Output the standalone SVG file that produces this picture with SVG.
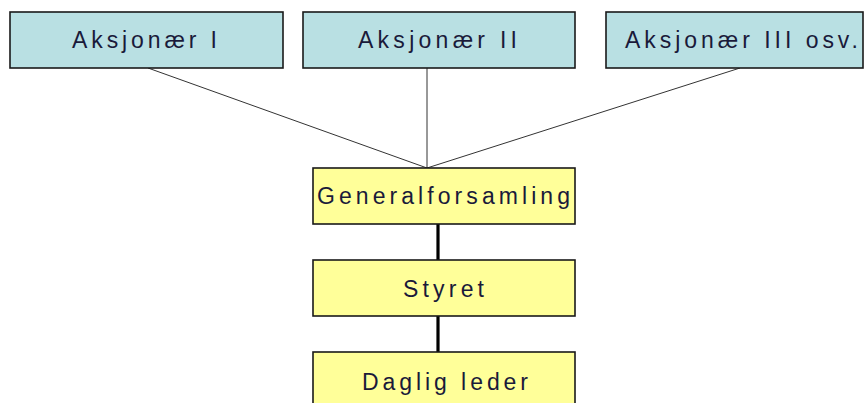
<svg xmlns="http://www.w3.org/2000/svg" width="867" height="403" viewBox="0 0 867 403">
<style>
.box{stroke:#1a1a1a;stroke-width:1.6}
.top{fill:#b9e0e3}
.yel{fill:#ffff99}
.t{font-family:"Liberation Sans",Arial,sans-serif;font-size:23px;fill:#1a1a3a;text-anchor:middle}
.thin{stroke:#333;stroke-width:1;fill:none}
.thick{stroke:#000;stroke-width:3.2;fill:none}
</style>
<rect width="867" height="403" fill="#fff"/>
<g id="connectors">
<line class="thin" x1="148" y1="68" x2="427" y2="168"/>
<line class="thin" x1="427" y1="68" x2="427" y2="168"/>
<line class="thin" x1="740" y1="68" x2="427" y2="168"/>
<line class="thick" x1="438" y1="224" x2="438" y2="260"/>
<line class="thick" x1="438" y1="316" x2="438" y2="352"/>
</g>
<g id="aksjonaer1">
<rect class="box top" x="10" y="12" width="273" height="56"/>
<text class="t" x="144.5" y="48" textLength="145" lengthAdjust="spacing">Aksjonær I</text>
</g>
<g id="aksjonaer2">
<rect class="box top" x="303" y="12" width="272" height="56"/>
<text class="t" x="437.5" y="48" textLength="159" lengthAdjust="spacing">Aksjonær II</text>
</g>
<g id="aksjonaer3">
<rect class="box top" x="606" y="12" width="257" height="56"/>
<text class="t" x="741.5" y="48" textLength="233" lengthAdjust="spacing">Aksjonær III osv.</text>
</g>
<g id="generalforsamling">
<rect class="box yel" x="313" y="168" width="262" height="56"/>
<text class="t" x="443.5" y="204" textLength="253" lengthAdjust="spacing">Generalforsamling</text>
</g>
<g id="styret">
<rect class="box yel" x="313" y="260" width="262" height="56"/>
<text class="t" x="443.5" y="297" textLength="81" lengthAdjust="spacing">Styret</text>
</g>
<g id="daglig-leder">
<rect class="box yel" x="313" y="352" width="262" height="60"/>
<text class="t" x="445" y="390" textLength="166" lengthAdjust="spacing">Daglig leder</text>
</g>
</svg>
